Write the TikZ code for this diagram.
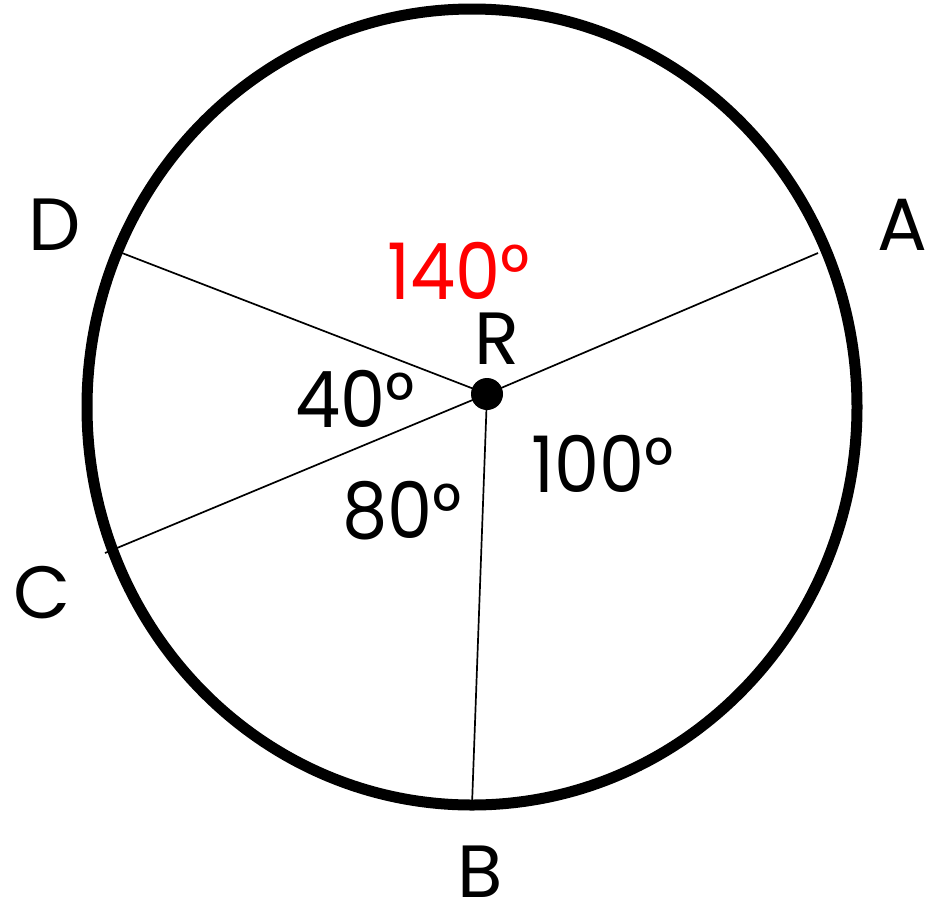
\documentclass[tikz,border=0pt]{standalone}
\usepackage{fontspec}
\setmainfont{Poppins}
\newfontfamily\numfont{Poppins}[FakeStretch=0.92]
\definecolor{lblred}{RGB}{255,0,0}
\begin{document}
\begin{tikzpicture}[x=1pt,y=-1pt,
  rim/.style={line width=11pt},
  spoke/.style={line width=1.7pt},
  lbl/.style={inner sep=0pt,anchor=base,font=\fontsize{74}{74}\selectfont},
  ang/.style={inner sep=0pt,anchor=base,font=\numfont\fontsize{78}{78}\selectfont},
  dot/.style={circle,fill=black,minimum size=32pt,inner sep=0pt}]
\useasboundingbox (0,0) rectangle (936,908);
\draw[rim] (472,407) ellipse [x radius=385, y radius=398];
\node[dot] (R) at (487,394) {};
\coordinate (pA) at (818,253);
\coordinate (pB) at (472,805);
\coordinate (pC) at (105,553);
\coordinate (pD) at (122,253);
\draw[spoke] (R.center) -- (pA);
\draw[spoke] (R.center) -- (pB);
\draw[spoke] (R.center) -- (pC);
\draw[spoke] (R.center) -- (pD);
\node[lbl] (lA) at (902,250) {A};
\node[lbl] (lB) at (480,897) {B};
\node[lbl] (lC) at (42,618) {C};
\node[lbl] (lD) at (55,250) {D};
\node[lbl] (lR) at (497,364) {R};
\node[ang,text=lblred] (a140) at (459,299) {140°};
\node[ang] (a40) at (355,427) {40°};
\node[ang] (a100) at (603,492) {100°};
\node[ang] (a80) at (402,538) {80°};
\end{tikzpicture}
\end{document}
